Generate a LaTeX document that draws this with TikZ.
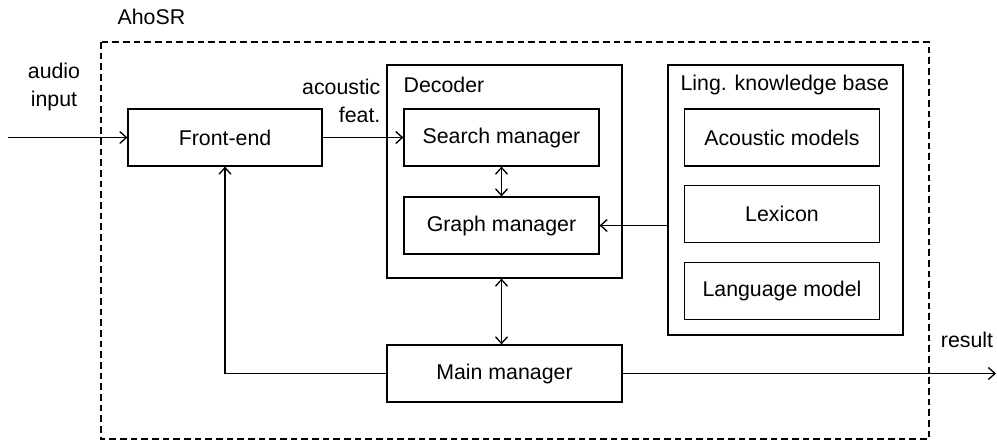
\documentclass[tikz,border=0pt]{standalone}
\usepackage{fontspec}
\setmainfont{Liberation Sans}
\usepackage{tikz}
\usetikzlibrary{arrows.meta, positioning}

\begin{document}
\begin{tikzpicture}[
  x=0.75pt, y=-0.75pt,
  font=\fontsize{16}{21}\selectfont,
  line width=0.9pt,
  >={Straight Barb[length=5pt, width=9pt, line width=1pt]},
  block/.style={
    draw,
    minimum width=146.25pt,
    minimum height=42.75pt,
    inner sep=0pt
  },
  frame/.style={
    draw,
    minimum width=176.25pt,
    inner sep=0pt
  },
  label/.style={
    inner sep=0pt,
    align=center
  }
]
\useasboundingbox (0,0) rectangle (997,441);

% outer system border
\draw[dash pattern=on 5pt off 3pt] (101,42) rectangle (929,439);
\node[label, anchor=west] (ahosr) at (117,17) {AhoSR};

% -------------------------------------------------------------------
% front end
% -------------------------------------------------------------------
\node[block, minimum width=145.5pt] (front) at (225,137.5) {Front-end};
\coordinate (audio) at (8,137.5);
\node[label] (audiolbl) at (54,87) {audio\\input};

% -------------------------------------------------------------------
% decoder
% -------------------------------------------------------------------
\node[frame, minimum height=159.75pt] (decoder) at (504.5,171.5) {};
\node[label, anchor=west] (declbl) at (403,85) {Decoder};
\node[block] (search) at (501.5,137.5) {Search manager};
\node[block] (graph) at (501.5,225.5) {Graph manager};
\node[label, align=right, anchor=east] (featlbl) at (381,100.5) {acoustic\\feat.};

% -------------------------------------------------------------------
% linguistic knowledge base
% -------------------------------------------------------------------
\node[frame, minimum height=202.5pt] (kb) at (785.5,200) {};
\node[label, anchor=west] (kblbl) at (680,85) {Ling. knowledge base};
\node[block] (acoustic) at (782,137.5) {Acoustic models};
\node[block] (lexicon) at (782,214) {Lexicon};
\node[block] (langmodel) at (782,291) {Language model};

% -------------------------------------------------------------------
% main manager
% -------------------------------------------------------------------
\node[frame, minimum height=42.75pt] (main) at (504.5,373.5) {Main manager};
\coordinate (result) at (996,373.5);
\node[label] (resultlbl) at (967,340) {result};

% connectors
\draw[->] (audio) -- (front.west);
\draw[->] (front.east) -- (search.west);
\draw[<->] (search.south) -- (graph.north);
\draw[->] (kb.west |- graph.east) -- (graph.east);
\draw[<->] (graph.south |- decoder.south) -- (graph.south |- main.north);
\draw[->] (main.west) -| (front.south);
\draw[->] (main.east) -- (result);

\end{tikzpicture}
\end{document}
